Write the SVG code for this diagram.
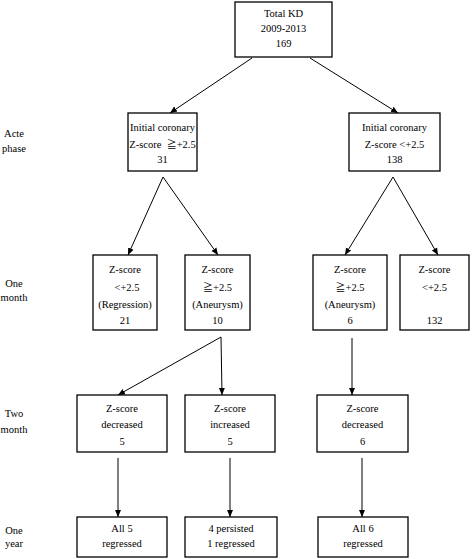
<svg xmlns="http://www.w3.org/2000/svg" width="473" height="559" viewBox="0 0 473 559">
<style>
.box{fill:#fff;stroke:#000;stroke-width:1.3}
.t{font-family:"Liberation Serif","Times New Roman",serif;font-size:10.5px;fill:#000;text-anchor:middle}
.s{font-family:"Noto Sans CJK JP","DejaVu Sans",sans-serif;font-size:10px}
.c{stroke:#000;stroke-width:1;fill:none}
.a{stroke:#000;stroke-width:1;fill:none;marker-end:url(#ah)}
</style>
<defs>
<marker id="ah" markerUnits="userSpaceOnUse" markerWidth="8" markerHeight="8" viewBox="0 0 8 8" refX="7" refY="4" orient="auto">
<path d="M0,1 L7,4 L0,7 Z" fill="#000"/>
</marker>
</defs>
<g id="labels">
<text class="t" x="14" y="137">Acte</text>
<text class="t" x="14" y="152">phase</text>
<text class="t" x="14" y="286.5">One</text>
<text class="t" x="14" y="300.5">month</text>
<text class="t" x="14" y="416.5">Two</text>
<text class="t" x="14" y="432.5">month</text>
<text class="t" x="14" y="533.5">One</text>
<text class="t" x="14" y="546.5">year</text>
</g>
<g id="connectors">
<line class="a" x1="252" y1="58" x2="170" y2="113"/>
<line class="a" x1="310" y1="58" x2="398" y2="113"/>
<line class="a" x1="163" y1="177" x2="128" y2="255"/>
<line class="a" x1="163" y1="177" x2="218" y2="255"/>
<line class="a" x1="393" y1="177" x2="345" y2="255"/>
<line class="a" x1="393" y1="177" x2="438" y2="255"/>
<line class="a" x1="221" y1="337" x2="118" y2="395"/>
<line class="a" x1="221" y1="337" x2="222" y2="395"/>
<line class="a" x1="352" y1="338" x2="352" y2="395"/>
<line class="a" x1="118" y1="458" x2="118" y2="517"/>
<line class="a" x1="230" y1="458" x2="230" y2="517"/>
<line class="a" x1="362" y1="458" x2="362" y2="517"/>
</g>
<g id="total">
<rect class="box" x="235" y="2" width="97" height="55"/>
<text class="t" x="283.5" y="16.5">Total KD</text>
<text class="t" x="283.5" y="31.5">2009-2013</text>
<text class="t" x="283.5" y="46.5">169</text>
</g>
<g id="acute-high">
<rect class="box" x="128" y="113" width="69" height="58"/>
<text class="t" x="162.5" y="130.5">Initial coronary</text>
<text class="t" x="162.5" y="147.5" xml:space="preserve">Z-score  <tspan class="s">≧</tspan>+2.5</text>
<text class="t" x="162.5" y="162.5">31</text>
</g>
<g id="acute-low">
<rect class="box" x="349" y="113" width="91" height="58"/>
<text class="t" x="394.5" y="130.5">Initial coronary</text>
<text class="t" x="394.5" y="147.5">Z-score &lt;+2.5</text>
<text class="t" x="394.5" y="162.5">138</text>
</g>
<g id="m1-regression">
<rect class="box" x="93" y="255" width="64" height="75"/>
<text class="t" x="125" y="272.5">Z-score</text>
<text class="t" x="127" y="290.5">&lt;+2.5</text>
<text class="t" x="125" y="307.5">(Regression)</text>
<text class="t" x="125" y="323.5">21</text>
</g>
<g id="m1-aneurysm">
<rect class="box" x="185" y="255" width="65" height="75"/>
<text class="t" x="217.5" y="272.5">Z-score</text>
<text class="t" x="217.5" y="290.5"><tspan class="s">≧</tspan>+2.5</text>
<text class="t" x="217.5" y="307.5">(Aneurysm)</text>
<text class="t" x="217.5" y="323.5">10</text>
</g>
<g id="m1-aneurysm-6">
<rect class="box" x="313" y="255" width="74" height="75"/>
<text class="t" x="350" y="272.5">Z-score</text>
<text class="t" x="350" y="290.5"><tspan class="s">≧</tspan>+2.5</text>
<text class="t" x="350" y="307.5">(Aneurysm)</text>
<text class="t" x="350" y="323.5">6</text>
</g>
<g id="m1-low">
<rect class="box" x="400" y="255" width="69" height="75"/>
<text class="t" x="434.5" y="272.5">Z-score</text>
<text class="t" x="434.5" y="290.5">&lt;+2.5</text>
<text class="t" x="434.5" y="323.5">132</text>
</g>
<g id="m2-decreased">
<rect class="box" x="77" y="395" width="90" height="57"/>
<text class="t" x="122" y="411.5">Z-score</text>
<text class="t" x="122" y="427.5">decreased</text>
<text class="t" x="122" y="444.5">5</text>
</g>
<g id="m2-increased">
<rect class="box" x="185" y="395" width="90" height="57"/>
<text class="t" x="230" y="411.5">Z-score</text>
<text class="t" x="230" y="427.5">increased</text>
<text class="t" x="230" y="444.5">5</text>
</g>
<g id="m2-decreased-6">
<rect class="box" x="317" y="395" width="91" height="57"/>
<text class="t" x="362.5" y="411.5">Z-score</text>
<text class="t" x="362.5" y="427.5">decreased</text>
<text class="t" x="362.5" y="444.5">6</text>
</g>
<g id="y1-a">
<rect class="box" x="77" y="517" width="90" height="40"/>
<text class="t" x="122" y="531.5">All 5</text>
<text class="t" x="122" y="546.5">regressed</text>
</g>
<g id="y1-b">
<rect class="box" x="185" y="517" width="92" height="40"/>
<text class="t" x="231" y="531.5">4 persisted</text>
<text class="t" x="231" y="546.5">1 regressed</text>
</g>
<g id="y1-c">
<rect class="box" x="318" y="517" width="90" height="40"/>
<text class="t" x="363" y="531.5">All 6</text>
<text class="t" x="363" y="546.5">regressed</text>
</g>
</svg>
